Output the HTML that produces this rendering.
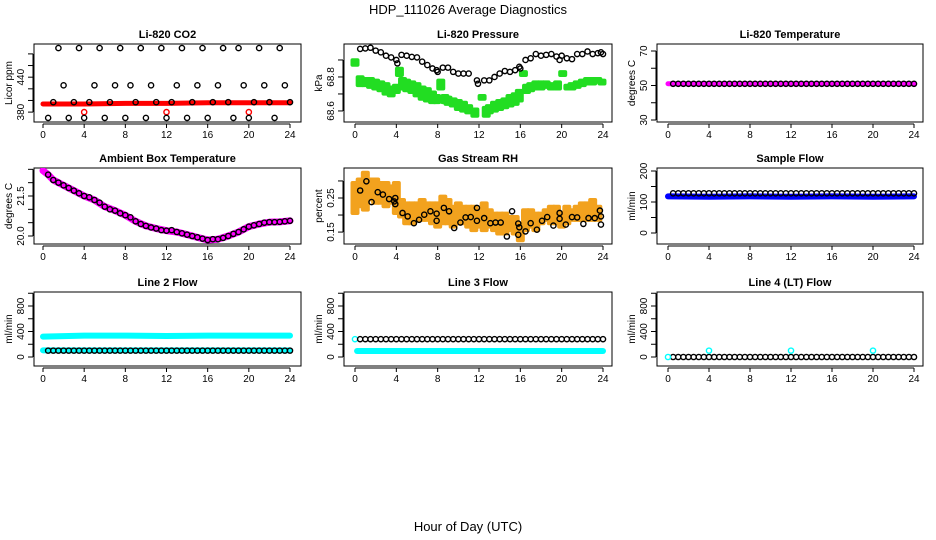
<!DOCTYPE html>
<html><head><meta charset="utf-8">
<style>
html,body{margin:0;padding:0;background:#fff;}
svg{display:block;font-family:"Liberation Sans",Arial,sans-serif;}
</style></head>
<body>
<svg id="c" width="936" height="540" viewBox="0 0 936 540">
<text x="468" y="14" text-anchor="middle" font-size="13">HDP_111026  Average Diagnostics</text>
<text x="468" y="531" text-anchor="middle" font-size="13">Hour of Day (UTC)</text>
</svg>
<script>
// ---------- data ----------
const hourTicks=[0,4,8,12,16,20,24];
const halfHours=[0.5,1,1.5,2,2.5,3,3.5,4,4.5,5,5.5,6,6.5,7,7.5,8,8.5,9,9.5,10,10.5,11,11.5,12,12.5,13,13.5,14,14.5,15,15.5,16,16.5,17,17.5,18,18.5,19,19.5,20,20.5,21,21.5,22,22.5,23,23.5,24];

const co2Black=[370,397,490,426,370,397,490,370,397,426,490,370,397,426,490,370,426,397,490,370,426,397,490,370,397,426,490,370,397,426,490,370,397,426,490,397,370,490,426,370,397,490,426,397,370,490,426,397];
const co2BandH=[0,4,8,12,16,20,24];
const co2BandV=[394,394,395,395,396,396,396];
const co2RedOutH=[4,12,20];
const co2RedOutV=[380,380,380];

const presBlackH=[0.5,1,1.5,2,2.5,3,3.5,4,4.1,4.5,5,5.5,6,6.5,7,7.5,7.9,8,8.5,9,9.5,10,10.5,11,11.8,11.9,12.5,13,13.5,14,14.5,15,15.5,15.9,16,16.5,17,17.5,18,18.5,19,19.5,19.8,20,20.5,21,21.5,22,22.5,23,23.5,23.8,24];
const presBlackV=[68.965,68.968,68.972,68.955,68.945,68.925,68.915,68.9,68.88,68.93,68.925,68.918,68.915,68.89,68.87,68.85,68.84,68.83,68.855,68.855,68.83,68.82,68.82,68.82,68.78,68.76,68.78,68.78,68.8,68.82,68.835,68.83,68.84,68.86,68.85,68.9,68.91,68.935,68.925,68.93,68.935,68.92,68.9,68.925,68.91,68.905,68.935,68.935,68.95,68.935,68.94,68.945,68.935];
const presGreenH=[0,0.5,1,1.5,2,2.5,3,3.5,4,4.3,4.6,5,5.5,6,6.5,7,7.5,7.9,8.3,8.7,9,9.5,10,10.5,11,11.6,12.3,12.7,13,13.5,14,14.5,15,15.5,15.9,16.3,16.6,17,17.5,18,18.5,19,19.6,20.1,20.6,21,21.5,22,22.5,23,23.5,23.9];
const presGreenLo=[68.86,68.74,68.74,68.73,68.72,68.71,68.69,68.68,68.7,68.8,68.72,68.71,68.7,68.68,68.66,68.65,68.64,68.64,68.72,68.64,68.63,68.62,68.6,68.59,68.58,68.56,68.66,68.56,68.58,68.59,68.6,68.61,68.62,68.63,68.65,68.8,68.7,68.71,68.72,68.72,68.73,68.72,68.72,68.8,68.72,68.72,68.73,68.74,68.75,68.75,68.76,68.75];
const presGreenHi=[68.91,68.81,68.8,68.8,68.79,68.78,68.77,68.75,68.76,68.86,68.8,68.79,68.78,68.77,68.75,68.74,68.72,68.7,68.79,68.7,68.69,68.68,68.67,68.66,68.64,68.62,68.7,68.63,68.64,68.66,68.67,68.68,68.7,68.71,68.73,68.84,68.76,68.77,68.78,68.78,68.78,68.77,68.78,68.84,68.76,68.77,68.78,68.79,68.8,68.8,68.8,68.79];

const liTempBlack=[51,51,51,51,51,51,51,51,51,51,51,51,51,51,51,51,51,51,51,51,51,51,51,51,51,51,51,51,51,51,51,51,51,51,51,51,51,51,51,51,51,51,51,51,51,51,51,51];
const liTempBandH=[0,24];
const liTempBandV=[51,51];

const ambBlack=[22.3,22.1,22.0,21.9,21.8,21.7,21.6,21.5,21.45,21.35,21.25,21.1,21.0,20.95,20.85,20.78,20.7,20.55,20.45,20.38,20.32,20.28,20.22,20.2,20.22,20.15,20.1,20.05,20.0,19.95,19.9,19.85,19.88,19.88,19.93,20.0,20.08,20.15,20.25,20.35,20.4,20.45,20.5,20.52,20.52,20.53,20.55,20.57];
const ambBandH=[0,0.5,1,2,3,4,5,6,7,8,9,10,11,12,13,14,15,16,17,18,19,20,21,22,23,24];
const ambBandV=[22.45,22.3,22.1,21.9,21.7,21.5,21.35,21.1,20.95,20.78,20.55,20.38,20.28,20.2,20.15,20.05,19.95,19.85,19.88,20.0,20.15,20.35,20.45,20.52,20.53,20.57];

const rhBlackH=[0.5,1.1,1.6,2.2,2.7,3.3,3.8,3.9,3.9,4.6,5.1,5.7,6.2,6.7,7.3,7.9,7.9,8.6,9.1,9.6,10.2,10.7,11.2,11.8,11.8,12.5,13.1,13.6,14.1,14.7,15.2,15.8,15.8,15.9,16.5,17.0,17.6,18.1,18.6,19.2,19.8,19.8,20.4,21.0,21.5,22.1,22.6,23.2,23.7,23.8,23.8];
const rhBlackV=[0.272,0.299,0.238,0.267,0.26,0.247,0.24,0.25,0.232,0.206,0.196,0.176,0.186,0.201,0.211,0.204,0.183,0.221,0.211,0.162,0.178,0.193,0.194,0.221,0.183,0.191,0.176,0.178,0.178,0.137,0.211,0.175,0.142,0.164,0.152,0.176,0.157,0.183,0.194,0.169,0.206,0.189,0.172,0.194,0.193,0.174,0.191,0.191,0.213,0.196,0.172];
const rhCloudH=[0,0.5,1,1.5,2,2.5,3,3.5,4,4.5,5,5.5,6,6.5,7,7.5,8,8.5,9,9.5,10,10.5,11,11.5,12,12.5,13,13.5,14,14.5,15,15.5,16,16.5,17,17.5,18,18.5,19,19.5,20,20.5,21,21.5,22,22.5,23,23.5];
const rhCloudLo=[0.2,0.22,0.21,0.24,0.23,0.23,0.22,0.23,0.2,0.19,0.17,0.17,0.18,0.18,0.18,0.17,0.16,0.17,0.17,0.16,0.17,0.17,0.16,0.15,0.16,0.15,0.16,0.15,0.14,0.14,0.15,0.14,0.12,0.15,0.16,0.15,0.17,0.18,0.17,0.17,0.16,0.17,0.18,0.18,0.18,0.18,0.18,0.18];
const rhCloudHi=[0.3,0.31,0.33,0.31,0.31,0.3,0.3,0.29,0.3,0.25,0.24,0.24,0.24,0.25,0.24,0.24,0.24,0.26,0.25,0.23,0.24,0.23,0.23,0.23,0.22,0.24,0.22,0.21,0.21,0.21,0.2,0.2,0.18,0.22,0.22,0.21,0.21,0.22,0.23,0.23,0.21,0.23,0.22,0.23,0.24,0.24,0.25,0.23];

const sampleBlack=[128,128,128,128,128,128,128,128,128,128,128,128,128,128,128,128,128,128,128,128,128,128,128,128,128,128,128,128,128,128,128,128,128,128,128,128,128,128,128,128,128,128,128,128,128,128,128,128];
const sampleBandH=[0,4,8,12,16,20,24];
const sampleBandV=[118,117,118,117,118,117,118];

const line2Black=[100,100,100,100,100,100,100,100,100,100,100,100,100,100,100,100,100,100,100,100,100,100,100,100,100,100,100,100,100,100,100,100,100,100,100,100,100,100,100,100,100,100,100,100,100,100,100,100];
const line2UpperH=[0,4,8,12,16,20,24];
const line2UpperV=[320,335,335,330,335,335,335];
const line2LowerH=[0,24];
const line2LowerV=[105,105];

const line3Black=[280,280,280,280,280,280,280,280,280,280,280,280,280,280,280,280,280,280,280,280,280,280,280,280,280,280,280,280,280,280,280,280,280,280,280,280,280,280,280,280,280,280,280,280,280,280,280,280];
const line3CyanH=[0.2,24];
const line3CyanV=[95,95];
const line3CyanPtH=[0];
const line3CyanPtV=[280];

const line4Black=[0,0,0,0,0,0,0,0,0,0,0,0,0,0,0,0,0,0,0,0,0,0,0,0,0,0,0,0,0,0,0,0,0,0,0,0,0,0,0,0,0,0,0,0,0,0,0,0];
const line4CyanH=[0,4,12,20];
const line4CyanV=[0,100,100,100];

// ---------- drawing ----------
const svg=document.getElementById('c');
const NS='http://www.w3.org/2000/svg';
function mk(tag,attrs,parent){const e=document.createElementNS(NS,tag);for(const k in attrs)e.setAttribute(k,attrs[k]);(parent||svg).appendChild(e);return e;}

const cols=[{x0:43,x24:290,l:34,r:301},{x0:355,x24:603,l:344,r:612},{x0:668,x24:914,l:657,r:923}];
const rows=[{t:44,b:122},{t:168,b:244},{t:292,b:366}];

function panel(ci,ri,name,title,ytitle,ymin,ymax,yticks,ylabels){
  const c=cols[ci],r=rows[ri];
  const g=mk('g',{});
  
  
  const xs=h=>c.x0+h*(c.x24-c.x0)/24;
  const ys=v=>r.b-(v-ymin)/(ymax-ymin)*(r.b-r.t);
  const t=mk('text',{x:(c.l+c.r)/2,y:r.t-6,'text-anchor':'middle','font-size':11,'font-weight':'bold'},g);
  t.textContent=title;
  
  
  const box=mk('rect',{x:c.l,y:r.t,width:c.r-c.l,height:r.b-r.t,fill:'none',stroke:'#000','stroke-width':1},g);
  
  
  const xa=mk('g',{},g);
  
  
  mk('line',{x1:xs(0),x2:xs(24),y1:r.b+2,y2:r.b+2,stroke:'#000'},xa);
  hourTicks.forEach(h=>{
    mk('line',{x1:xs(h),x2:xs(h),y1:r.b+2,y2:r.b+6,stroke:'#000'},xa);
    const tl=mk('text',{x:xs(h),y:r.b+16,'text-anchor':'middle','font-size':10},xa);
    tl.textContent=h;
    
    
  });
  const ya=mk('g',{},g);
  
  
  const ax=c.l-1;
  mk('line',{x1:ax,x2:ax,y1:ys(yticks[0]),y2:ys(yticks[yticks.length-1]),stroke:'#000'},ya);
  yticks.forEach(v=>{mk('line',{x1:ax-5,x2:ax,y1:ys(v),y2:ys(v),stroke:'#000'},ya);});
  ylabels.forEach(v=>{
    const yy=ys(parseFloat(v));
    const tl=mk('text',{x:ax-9,y:yy,'text-anchor':'middle','font-size':10,transform:`rotate(-90 ${ax-9} ${yy})`},ya);
    tl.textContent=v;
    
    
  });
  const yt=mk('text',{x:c.l-22,y:(r.t+r.b)/2,'text-anchor':'middle','font-size':10,transform:`rotate(-90 ${c.l-22} ${(r.t+r.b)/2})`},g);
  yt.textContent=ytitle;
  
  
  const clip='clip'+ci+ri;
  const cp=mk('clipPath',{id:clip},g);
  mk('rect',{x:c.l,y:r.t,width:c.r-c.l,height:r.b-r.t},cp);
  const d=mk('g',{'clip-path':`url(#${clip})`},g);
  return {g:d,xs,ys};
}
function band(p,H,V,color,w,name){
  const pts=H.map((h,i)=>p.xs(h)+','+p.ys(V[i])).join(' ');
  const e=mk('polyline',{points:pts,fill:'none',stroke:color,'stroke-width':w,'stroke-linecap':'round','stroke-linejoin':'round'},p.g);
  
  
}
function pts(p,H,V,color,name,fill){
  V.forEach((v,i)=>{
    const e=mk('circle',{cx:p.xs(H[i]),cy:p.ys(v),r:2.6,fill:fill||'none',stroke:color,'stroke-width':1.4},p.g);
    
    
  });
}
function cloud(p,H,LO,HI,color,w,name){
  H.forEach((h,i)=>{
    const y1=p.ys(HI[i]),y2=p.ys(LO[i]);
    const e=mk('rect',{x:p.xs(h)-w/2,y:y1,width:w,height:y2-y1,fill:color,rx:2},p.g);
    
    
  });
}

let p=panel(0,0,'co2-panel','Li-820 CO2','Licor ppm',363,497,[380,400,420,440,460,480],['380','440']);
band(p,co2BandH,co2BandV,'#ff0000',5,'co2-red-band');
pts(p,co2RedOutH,co2RedOutV,'#ff0000','co2-red-point');
pts(p,halfHours,co2Black,'#000','co2-point');
p=panel(1,0,'pressure-panel','Li-820 Pressure','kPa',68.535,68.994,[68.6,68.7,68.8,68.9],['68.6','68.8']);
cloud(p,presGreenH,presGreenLo,presGreenHi,'#22dd22',9,'pressure-green-cloud');
pts(p,presBlackH,presBlackV,'#000','pressure-point');
p=panel(2,0,'li-temp-panel','Li-820 Temperature','degrees C',28.84,74.06,[30,40,50,60,70],['30','50','70']);
band(p,liTempBandH,liTempBandV,'#ff00ff',5,'li-temp-band');
pts(p,halfHours,liTempBlack,'#000','li-temp-point');
p=panel(0,1,'ambient-temp-panel','Ambient Box Temperature','degrees C',19.7,22.55,[20,20.5,21,21.5,22,22.5],['20.0','21.5']);
band(p,ambBandH,ambBandV,'#ff00ff',7,'ambient-band');
pts(p,halfHours,ambBlack,'#000','ambient-point');
p=panel(1,1,'rh-panel','Gas Stream RH','percent',0.115,0.338,[0.15,0.2,0.25,0.3],['0.15','0.25']);
cloud(p,rhCloudH,rhCloudLo,rhCloudHi,'#f2a21e',9,'rh-orange-cloud');
pts(p,rhBlackH,rhBlackV,'#000','rh-point');
p=panel(2,1,'sample-flow-panel','Sample Flow','ml/min',-35.5,209.7,[0,50,100,150,200],['0','100','200']);
band(p,sampleBandH,sampleBandV,'#0000ff',6,'sample-blue-band');
pts(p,halfHours,sampleBlack,'#000','sample-point');
p=panel(0,2,'line2-panel','Line 2 Flow','ml/min',-141,1019.6,[0,200,400,600,800,1000],['0','400','800']);
band(p,line2UpperH,line2UpperV,'#00ffff',6,'line2-upper-band');
band(p,line2LowerH,line2LowerV,'#00ffff',6,'line2-lower-band');
pts(p,halfHours,line2Black,'#000','line2-point');
p=panel(1,2,'line3-panel','Line 3 Flow','ml/min',-141,1019.6,[0,200,400,600,800,1000],['0','400','800']);
band(p,line3CyanH,line3CyanV,'#00ffff',6,'line3-cyan-band');
pts(p,line3CyanPtH,line3CyanPtV,'#00ffff','line3-cyan-point');
pts(p,halfHours,line3Black,'#000','line3-point');
p=panel(2,2,'line4-panel','Line 4 (LT) Flow','ml/min',-141,1019.6,[0,200,400,600,800,1000],['0','400','800']);
pts(p,halfHours,line4Black,'#000','line4-point');
pts(p,line4CyanH,line4CyanV,'#00ffff','line4-cyan-point');
</script>
</body></html>
